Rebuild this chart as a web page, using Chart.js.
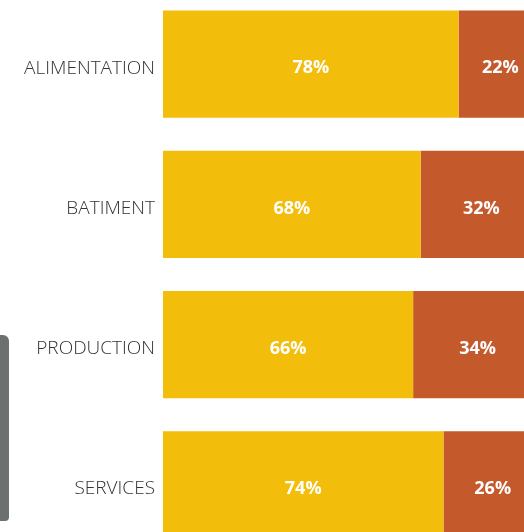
<!DOCTYPE html>
<html>
<head>
<meta charset="utf-8">
<script src="https://cdn.jsdelivr.net/npm/chart.js@4.4.1/dist/chart.umd.min.js"></script>
<style>
  html, body { margin: 0; padding: 0; background: #ffffff; }
  body { width: 524px; height: 532px; overflow: hidden; position: relative; }
  #c { position: absolute; left: 0; top: -6px; }
  #blob { position: absolute; left: 0; top: 335px; width: 9px; height: 186px;
          background: #6c706f; border-radius: 0 6px 4px 0; }
</style>
</head>
<body>
<canvas id="c" width="542" height="561"></canvas>
<div id="blob"></div>
<script>
const categories = ["ALIMENTATION", "BATIMENT", "PRODUCTION", "SERVICES"];
const seriesA = [78, 68, 66, 74];
const seriesB = [22, 32, 34, 26];
const colorA = "#f3bd0c";
const colorB = "#c4592c";

const labelPlugin = {
  id: "pctLabels",
  afterDatasetsDraw(chart) {
    const ctx = chart.ctx;
    ctx.save();
    ctx.font = "bold 18px 'Open Sans', sans-serif";
    ctx.fillStyle = "#ffffff";
    ctx.textAlign = "center";
    ctx.textBaseline = "middle";
    chart.data.datasets.forEach((ds, di) => {
      const meta = chart.getDatasetMeta(di);
      meta.data.forEach((bar, i) => {
        const p = bar.getProps(["x", "base", "y"], true);
        const cx = (p.x + p.base) / 2;
        ctx.fillText(ds.data[i] + "%", cx, p.y + 4);
      });
    });
    ctx.restore();
  }
};

new Chart(document.getElementById("c"), {
  type: "bar",
  data: {
    labels: categories,
    datasets: [
      { data: seriesA, backgroundColor: colorA, borderWidth: 0 },
      { data: seriesB, backgroundColor: colorB, borderWidth: 0 }
    ]
  },
  options: {
    indexAxis: "y",
    responsive: false,
    animation: false,
    layout: { padding: 0 },
    plugins: { legend: { display: false }, tooltip: { enabled: false } },
    datasets: { bar: { categoryPercentage: 0.765, barPercentage: 1 } },
    scales: {
      x: {
        stacked: true, min: 0, max: 100, display: false
      },
      y: {
        stacked: true,
        grid: { display: false, drawTicks: false },
        border: { display: false },
        ticks: {
          color: "#333333",
          padding: 8,
          labelOffset: 4,
          font: { family: "'Open Sans', sans-serif", size: 19, weight: 300 }
        },
        afterFit(scale) {
          scale.width = 163;
          scale.paddingTop = 0;
          scale.paddingBottom = 0;
        }
      }
    }
  },
  plugins: [labelPlugin]
});
</script>
</body>
</html>
